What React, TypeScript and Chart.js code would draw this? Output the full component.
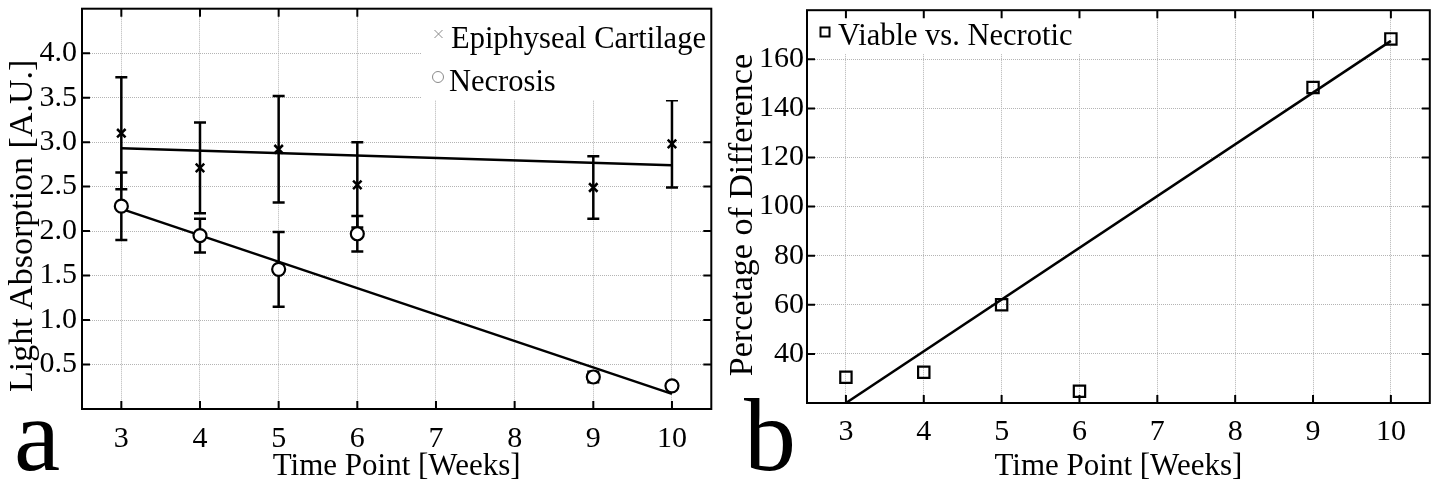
import React, { useEffect, useRef } from 'react';
import { Chart, registerables } from 'chart.js';

Chart.register(...registerables);

// ---------- data ----------
const weeks = [3, 4, 5, 6, 9, 10];
const cartilage = [3.1, 2.71, 2.92, 2.52, 2.49, 2.98];
const cartilageErr = [0.63, 0.51, 0.6, 0.48, 0.35, 0.49];
const necrosis = [2.28, 1.95, 1.57, 1.97, 0.36, 0.26];
const necrosisErr = [0.38, 0.19, 0.42, 0.2, 0.06, 0.0];
const fitWeeks = [3, 10];
const cartilageFit = [2.93, 2.74];
const necrosisFit = [2.25, 0.17];
const difference = [30.5, 32.5, 60.0, 24.8, 148.5, 168.3];
const differenceFit = [20, 167.5];
const xTicks = [3, 4, 5, 6, 7, 8, 9, 10];
const yTicksA = [0.5, 1.0, 1.5, 2.0, 2.5, 3.0, 3.5, 4.0];
const yTicksB = [40, 60, 80, 100, 120, 140, 160];

const FONT = '"Liberation Serif", "Times New Roman", serif';
const tickFont = { family: FONT, size: 30 };
const xTitleFont = { family: FONT, size: 31 };
const yTitleFont = { family: FONT, size: 34 };
const GRID = '#b4b4b4';

type Marker = 'cross' | 'circle' | 'square';

interface DecorCfg {
  errors: { values: number[]; errs: number[] }[];
  xTickValues: number[];
  yTickValues: number[];
  legendBox: { x0: number; y0: number; x1: number; y1: number };
  legendItems: { datasetIndex: number; marker: Marker; mx: number; my: number; tx: number; ty: number; color: string; lw: number; size: number }[];
  ticksAboveLegend: boolean;
  letter: string;
  letterX: number;
  letterY: number;
}

function drawMarker(ctx: CanvasRenderingContext2D, m: Marker, x: number, y: number, size: number) {
  ctx.beginPath();
  if (m === 'cross') {
    ctx.moveTo(x - size, y - size);
    ctx.lineTo(x + size, y + size);
    ctx.moveTo(x - size, y + size);
    ctx.lineTo(x + size, y - size);
  } else if (m === 'circle') {
    ctx.arc(x, y, size, 0, Math.PI * 2);
  } else {
    ctx.rect(x - size, y - size, size * 2, size * 2);
  }
  ctx.stroke();
}

function decorPlugin(cfg: DecorCfg) {
  const drawTicks = (chart: any) => {
    const { ctx, chartArea: a, scales } = chart;
    ctx.save();
    ctx.strokeStyle = '#000';
    ctx.lineWidth = 2;
    ctx.beginPath();
    const L = 8;
    cfg.xTickValues.forEach((v) => {
      const px = scales.x.getPixelForValue(v);
      ctx.moveTo(px, a.bottom);
      ctx.lineTo(px, a.bottom - L);
      ctx.moveTo(px, a.top);
      ctx.lineTo(px, a.top + L);
    });
    cfg.yTickValues.forEach((v) => {
      const py = scales.y.getPixelForValue(v);
      ctx.moveTo(a.left, py);
      ctx.lineTo(a.left + L, py);
      ctx.moveTo(a.right, py);
      ctx.lineTo(a.right - L, py);
    });
    ctx.stroke();
    ctx.restore();
  };
  const drawLegend = (chart: any) => {
    const { ctx } = chart;
    const b = cfg.legendBox;
    ctx.save();
    ctx.fillStyle = '#fff';
    ctx.fillRect(b.x0, b.y0, b.x1 - b.x0, b.y1 - b.y0);
    cfg.legendItems.forEach((it) => {
      ctx.strokeStyle = it.color;
      ctx.lineWidth = it.lw;
      drawMarker(ctx, it.marker, it.mx, it.my, it.size);
      ctx.fillStyle = '#000';
      ctx.font = `30.5px ${FONT}`;
      ctx.textBaseline = 'alphabetic';
      ctx.textAlign = 'left';
      ctx.fillText(chart.data.datasets[it.datasetIndex].label, it.tx, it.ty);
    });
    ctx.restore();
  };
  return {
    id: 'decor',
    beforeDatasetsDraw(chart: any) {
      const { ctx, scales } = chart;
      ctx.save();
      ctx.strokeStyle = '#000';
      ctx.lineWidth = 2.5;
      cfg.errors.forEach((e) => {
        e.values.forEach((v, i) => {
          if (!e.errs[i]) return;
          const px = scales.x.getPixelForValue(weeks[i]);
          const pt = scales.y.getPixelForValue(v + e.errs[i]);
          const pb = scales.y.getPixelForValue(v - e.errs[i]);
          ctx.beginPath();
          ctx.moveTo(px, pt);
          ctx.lineTo(px, pb);
          ctx.moveTo(px - 6, pt);
          ctx.lineTo(px + 6, pt);
          ctx.moveTo(px - 6, pb);
          ctx.lineTo(px + 6, pb);
          ctx.stroke();
        });
      });
      ctx.restore();
    },
    afterDatasetsDraw(chart: any) {
      const { ctx, chartArea: a } = chart;
      if (cfg.ticksAboveLegend) {
        drawLegend(chart);
        drawTicks(chart);
      } else {
        drawTicks(chart);
        drawLegend(chart);
      }
      ctx.save();
      ctx.strokeStyle = '#000';
      ctx.lineWidth = 2;
      ctx.strokeRect(a.left, a.top, a.right - a.left, a.bottom - a.top);
      ctx.restore();
    },
    afterDraw(chart: any) {
      const { ctx } = chart;
      ctx.save();
      ctx.fillStyle = '#000';
      ctx.font = `104px ${FONT}`;
      ctx.textBaseline = 'alphabetic';
      ctx.textAlign = 'left';
      ctx.fillText(cfg.letter, cfg.letterX, cfg.letterY);
      ctx.restore();
    },
  };
}

function xAxis(height: number, pad: number) {
  return {
    type: 'linear',
    min: 2.5,
    max: 10.5,
    afterBuildTicks: (s: any) => {
      s.ticks = xTicks.map((v) => ({ value: v }));
    },
    afterFit: (s: any) => {
      s.height = height;
      s.paddingLeft = 0;
      s.paddingRight = 0;
      s.paddingTop = 0;
      s.paddingBottom = 0;
    },
    ticks: { font: tickFont, color: '#000', padding: pad, maxRotation: 0, autoSkip: false, callback: (v: any) => String(v) },
    grid: { color: GRID, lineWidth: 1, drawTicks: false },
    border: { display: false, dash: [1, 1] },
    title: { display: true, text: 'Time Point [Weeks]', font: xTitleFont, color: '#000', padding: { top: 0, bottom: 5 } },
  };
}

function yAxis(width: number, min: number, max: number, ticksArr: number[], title: string, digits: number, pad: number) {
  return {
    type: 'linear',
    min,
    max,
    afterBuildTicks: (s: any) => {
      s.ticks = ticksArr.map((v) => ({ value: v }));
    },
    afterFit: (s: any) => {
      s.width = width;
      s.paddingLeft = 0;
      s.paddingRight = 0;
      s.paddingTop = 0;
      s.paddingBottom = 0;
    },
    ticks: { font: tickFont, color: '#000', padding: pad, autoSkip: false, callback: (v: any) => Number(v).toFixed(digits) },
    grid: { color: GRID, lineWidth: 1, drawTicks: false },
    border: { display: false, dash: [1, 1] },
    title: { display: true, text: title, font: yTitleFont, color: '#000', padding: { top: 3, bottom: 0 } },
  };
}

const pts = (xs: number[], ys: number[]) => xs.map((x, i) => ({ x, y: ys[i] }));

function configA(): any {
  return {
    type: 'scatter',
    data: {
      datasets: [
        {
          label: 'Epiphyseal Cartilage',
          data: pts(weeks, cartilage),
          pointStyle: 'crossRot',
          pointRadius: 6,
          borderColor: '#000',
          borderWidth: 2.5,
          order: 1,
        },
        {
          label: 'Necrosis',
          data: pts(weeks, necrosis),
          pointStyle: 'circle',
          pointRadius: 6.5,
          backgroundColor: '#fff',
          borderColor: '#000',
          borderWidth: 2.2,
          order: 1,
        },
        {
          type: 'line',
          label: 'Cartilage fit',
          data: pts(fitWeeks, cartilageFit),
          borderColor: '#000',
          borderWidth: 2.5,
          pointRadius: 0,
          showLine: true,
          fill: false,
          order: 2,
        },
        {
          type: 'line',
          label: 'Necrosis fit',
          data: pts(fitWeeks, necrosisFit),
          borderColor: '#000',
          borderWidth: 2.5,
          pointRadius: 0,
          showLine: true,
          fill: false,
          order: 2,
        },
      ],
    },
    options: {
      responsive: false,
      animation: false,
      devicePixelRatio: 1,
      layout: { padding: { left: 0, top: 7, right: 8, bottom: 0 } },
      plugins: { legend: { display: false }, tooltip: { enabled: false } },
      scales: {
        x: xAxis(81, 12),
        y: yAxis(82, 0, 4.5, yTicksA, 'Light Absorption [A.U.]    ', 1, 5),
      },
    },
    plugins: [
      decorPlugin({
        errors: [
          { values: cartilage, errs: cartilageErr },
          { values: necrosis, errs: necrosisErr },
        ],
        xTickValues: xTicks,
        yTickValues: yTicksA,
        legendBox: { x0: 422, y0: 8, x1: 711, y1: 100 },
        legendItems: [
          { datasetIndex: 0, marker: 'cross', mx: 438.5, my: 34, tx: 451, ty: 48, color: '#8a8a8a', lw: 1, size: 4 },
          { datasetIndex: 1, marker: 'circle', mx: 438, my: 77, tx: 449, ty: 91, color: '#8a8a8a', lw: 1, size: 5.5 },
        ],
        ticksAboveLegend: false,
        letter: 'a',
        letterX: 14,
        letterY: 470,
      }),
    ],
  };
}

function configB(): any {
  return {
    type: 'scatter',
    data: {
      datasets: [
        {
          label: 'Viable vs. Necrotic',
          data: pts(weeks, difference),
          pointStyle: 'rect',
          pointRadius: 8,
          backgroundColor: 'rgba(255,255,255,0)',
          borderColor: '#000',
          borderWidth: 2.2,
          order: 1,
        },
        {
          type: 'line',
          label: 'Difference fit',
          data: pts(fitWeeks, differenceFit),
          borderColor: '#000',
          borderWidth: 2.5,
          pointRadius: 0,
          showLine: true,
          fill: false,
          order: 2,
        },
      ],
    },
    options: {
      responsive: false,
      animation: false,
      devicePixelRatio: 1,
      layout: { padding: { left: 0, top: 7, right: 9, bottom: 0 } },
      plugins: { legend: { display: false }, tooltip: { enabled: false } },
      scales: {
        x: xAxis(87, 11),
        y: yAxis(87, 20, 180, yTicksB, 'Percetage of Difference  ', 0, 3),
      },
    },
    plugins: [
      decorPlugin({
        errors: [],
        xTickValues: xTicks,
        yTickValues: yTicksB,
        legendBox: { x0: 88, y0: 8, x1: 360, y1: 54 },
        legendItems: [
          { datasetIndex: 0, marker: 'square', mx: 105, my: 32, tx: 118, ty: 45, color: '#000', lw: 2, size: 4.5 },
        ],
        ticksAboveLegend: true,
        letter: 'b',
        letterX: 24,
        letterY: 470,
      }),
    ],
  };
}

function Panel({ left, make }: { left: number; make: () => any }) {
  const ref = useRef<HTMLCanvasElement | null>(null);
  useEffect(() => {
    if (!ref.current) return;
    const chart = new Chart(ref.current, make());
    return () => chart.destroy();
  }, [make]);
  return (
    <div style={{ position: 'absolute', left, top: 0, width: 720, height: 490 }}>
      <canvas ref={ref} width={720} height={490} style={{ width: 720, height: 490, display: 'block' }} />
    </div>
  );
}

export default function App() {
  return (
    <div style={{ position: 'absolute', left: 0, top: 0, width: 1440, height: 490, background: '#fff', overflow: 'hidden' }}>
      <Panel left={0} make={configA} />
      <Panel left={720} make={configB} />
    </div>
  );
}
